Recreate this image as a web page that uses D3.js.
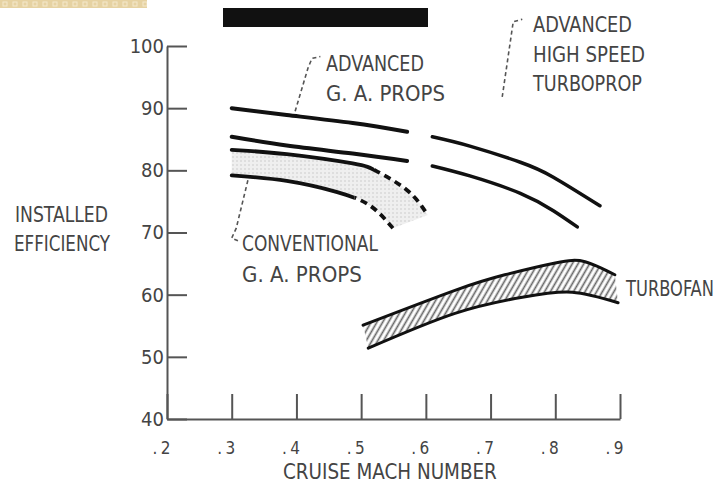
<!DOCTYPE html>
<html>
<head>
<meta charset="utf-8">
<script src="https://cdn.jsdelivr.net/npm/d3@7"></script>
<style>
  html, body { margin: 0; padding: 0; background: #fff; }
  svg { display: block; }
  text { font-family: "Liberation Sans Narrow", "DejaVu Sans Condensed", sans-serif; fill: #444; }
</style>
</head>
<body>
<svg id="chart" width="724" height="488"></svg>
<script>
// axis ticks
const xTicks = [0.2, 0.3, 0.4, 0.5, 0.6, 0.7, 0.8, 0.9];
const xTickLabels = [".2", ".3", ".4", ".5", ".6", ".7", ".8", ".9"];
const yTicks = [40, 50, 60, 70, 80, 90, 100];

// curves, [mach, installed efficiency %]
const advGaHigh = [[0.30, 90.0], [0.385, 88.9], [0.487, 87.6], [0.571, 86.2]];
const advGaLow = [[0.30, 85.4], [0.385, 84.0], [0.487, 82.7], [0.571, 81.5]];
const turbopropHigh = [[0.610, 85.4], [0.668, 83.9], [0.746, 81.3], [0.797, 78.9], [0.869, 74.3]];
const turbopropLow = [[0.610, 80.7], [0.668, 79.1], [0.746, 76.3], [0.797, 73.5], [0.834, 70.9]];
const convUpper = [[0.30, 83.3], [0.385, 82.6], [0.487, 81.1], [0.525, 79.8], [0.571, 76.8], [0.603, 72.8]];
const convLower = [[0.30, 79.2], [0.385, 78.3], [0.463, 76.5], [0.514, 74.3], [0.549, 70.7]];
const convUpperDashFrom = 0.52;
const convLowerDashFrom = 0.49;
const fanUpper = [[0.503, 55.1], [0.645, 60.7], [0.722, 63.2], [0.800, 65.1], [0.846, 65.3], [0.892, 63.2]];
const fanLower = [[0.511, 51.4], [0.645, 57.0], [0.749, 59.6], [0.826, 60.4], [0.897, 58.7]];

// leader lines from labels to curves (data units)
const leaderAdvGa = [[0.398, 89.5], [0.418, 96.5], [0.424, 98.0], [0.437, 98.3]];
const leaderTurboprop = [[0.718, 91.8], [0.735, 103.9], [0.749, 104.3]];
const leaderConv = [[0.325, 78.4], [0.307, 70.7], [0.300, 69.1], [0.313, 68.5]];

const svg = d3.select("#chart");
const x = d3.scaleLinear().domain([0.2, 0.9]).range([167, 620]);
const y = d3.scaleLinear().domain([40, 100]).range([419, 46]);
const line = d3.line().x(d => x(d[0])).y(d => y(d[1])).curve(d3.curveNatural);

// patterns
const defs = svg.append("defs");
const stip = defs.append("pattern").attr("id", "stip")
    .attr("patternUnits", "userSpaceOnUse").attr("width", 4).attr("height", 4);
stip.append("rect").attr("width", 4).attr("height", 4).attr("fill", "#efefef");
stip.append("circle").attr("cx", 1).attr("cy", 1).attr("r", 0.8).attr("fill", "#cacaca");

const hatch = defs.append("pattern").attr("id", "hatch")
    .attr("patternUnits", "userSpaceOnUse").attr("width", 5).attr("height", 10)
    .attr("patternTransform", "rotate(30)");
hatch.append("rect").attr("width", 5).attr("height", 10).attr("fill", "#fff");
hatch.append("line").attr("x1", 2.5).attr("x2", 2.5).attr("y1", 0).attr("y2", 10)
    .attr("stroke", "#666").attr("stroke-width", 1.7);

const tile = defs.append("pattern").attr("id", "tile")
    .attr("patternUnits", "userSpaceOnUse").attr("width", 10).attr("height", 8);
tile.append("rect").attr("width", 10).attr("height", 8).attr("fill", "#e6d2a2");
tile.append("rect").attr("x", 3).attr("y", 2).attr("width", 4).attr("height", 4)
    .attr("fill", "none").attr("stroke", "#f4e9cc").attr("stroke-width", 1);

// clips to switch a curve from solid to dashed at a given mach
function clip(id, from, to) {
    defs.append("clipPath").attr("id", id).append("rect")
        .attr("x", x(from)).attr("y", 0).attr("width", x(to) - x(from)).attr("height", 488);
}
clip("upSolid", 0.2, convUpperDashFrom);
clip("upDash", convUpperDashFrom, 0.9);
clip("lowSolid", 0.2, convLowerDashFrom);
clip("lowDash", convLowerDashFrom, 0.9);

// scan leftovers at top
svg.append("rect").attr("x", 0).attr("y", 0).attr("width", 147).attr("height", 8).attr("fill", "url(#tile)");
svg.append("rect").attr("x", 223).attr("y", 8).attr("width", 205).attr("height", 19).attr("fill", "#111");

// axes
const yAxis = svg.append("g").attr("transform", `translate(${x(0.2)},0)`)
    .call(d3.axisLeft(y).tickValues(yTicks).tickSize(-20).tickSizeOuter(0).tickPadding(3));
const xAxis = svg.append("g").attr("transform", `translate(0,${y(40)})`)
    .call(d3.axisBottom(x).tickValues(xTicks).tickSize(-25).tickSizeOuter(0).tickPadding(23)
        .tickFormat((d, i) => xTickLabels[i]));
[yAxis, xAxis].forEach(a => {
    a.select(".domain").attr("stroke", "#555").attr("stroke-width", 2);
    a.selectAll(".tick line").attr("stroke", "#555").attr("stroke-width", 2);
    a.selectAll(".tick text").style("fill", "#444").attr("font-family", null);
});
yAxis.selectAll(".tick text").style("font-size", "20px");
xAxis.selectAll(".tick text").style("font-size", "17px")
    .attr("text-anchor", "end").attr("dx", 3)
    .attr("textLength", 18).attr("lengthAdjust", "spacing");

// bands
function band(upper, lower, fill) {
    const up = line(upper);
    const down = line(lower.slice().reverse());
    svg.append("path").attr("d", up + "L" + down.slice(1) + "Z").attr("fill", fill).attr("stroke", "none");
}
band(convUpper, convLower, "url(#stip)");
band(fanUpper, fanLower, "url(#hatch)");

function curve(pts, width, dash, clipId) {
    svg.append("path").attr("d", line(pts)).attr("fill", "none")
        .attr("stroke", "#111").attr("stroke-width", width)
        .attr("stroke-linecap", dash ? "butt" : "round")
        .attr("stroke-dasharray", dash || null)
        .attr("clip-path", clipId ? `url(#${clipId})` : null);
}
curve(advGaHigh, 4);
curve(advGaLow, 4);
curve(turbopropHigh, 3.5);
curve(turbopropLow, 3.5);
curve(convUpper, 3.8, null, "upSolid");
curve(convUpper, 3.8, "7,5", "upDash");
curve(convLower, 3.8, null, "lowSolid");
curve(convLower, 3.8, "7,5", "lowDash");
curve(fanUpper, 3);
curve(fanLower, 3);

// leaders
[leaderAdvGa, leaderTurboprop, leaderConv].forEach(pts => {
    svg.append("path").attr("d", d3.line().x(d => x(d[0])).y(d => y(d[1]))(pts))
        .attr("fill", "none").attr("stroke", "#555").attr("stroke-width", 1.6)
        .attr("stroke-dasharray", "4,3");
});

// labels: squeeze each one horizontally to the width of the lettering in the scan
function label(px, py, txt, len, size) {
    const t = svg.append("text").style("font-size", (size || 21) + "px").text(txt);
    const w = t.node().getComputedTextLength();
    t.attr("transform", `translate(${px},${py}) scale(${len / w},1)`);
}
label(326, 71, "ADVANCED", 98);
label(326, 101, "G. A. PROPS", 119);
label(533, 32, "ADVANCED", 99);
label(533, 62, "HIGH SPEED", 112);
label(533, 91, "TURBOPROP", 109);
label(242, 251, "CONVENTIONAL", 136);
label(242, 282, "G. A. PROPS", 120);
label(626, 296, "TURBOFAN", 88);
label(15, 222, "INSTALLED", 93);
label(14, 251, "EFFICIENCY", 96);
label(283, 479, "CRUISE MACH NUMBER", 214);
</script>
</body>
</html>
